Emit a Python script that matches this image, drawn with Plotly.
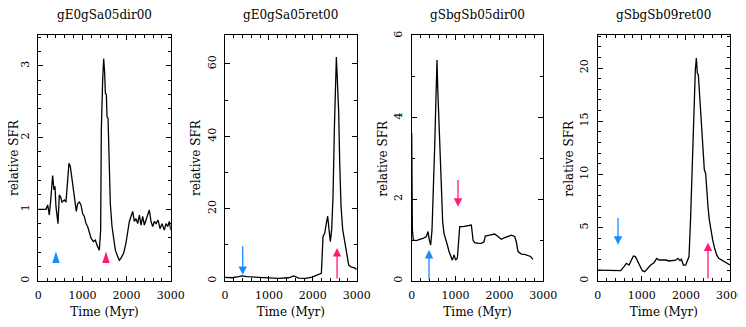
import plotly.graph_objects as go
from plotly.subplots import make_subplots

# --- data ---
titles = ['gE0gSa05dir00', 'gE0gSa05ret00', 'gSbgSb05dir00', 'gSbgSb09ret00']

t1 = [0, 174, 212, 250, 287, 325, 355, 378, 400, 423, 446, 476, 506, 537, 590, 627, 665, 695,
      725, 756, 793, 839, 861, 892, 930, 967, 1005, 1043, 1081, 1118, 1156, 1194, 1247, 1292,
      1330, 1383, 1413, 1428, 1458, 1481, 1504, 1519, 1542, 1557, 1580, 1602, 1632, 1670, 1708,
      1746, 1799, 1836, 1874, 1935, 1987, 2033, 2063, 2101, 2138, 2176, 2214, 2252, 2290, 2327,
      2365, 2403, 2440, 2478, 2516, 2554, 2592, 2629, 2667, 2713, 2758, 2803, 2856, 2894, 2932,
      2970, 3000]
s1 = [1.0, 1.0, 1.06, 0.92, 1.17, 1.47, 1.27, 1.32, 1.04, 0.9, 0.8, 1.2, 1.17, 1.1, 1.13, 1.1,
      1.5, 1.64, 1.6, 1.46, 1.27, 1.08, 0.97, 1.08, 1.1, 1.06, 0.94, 0.9, 0.8, 0.76, 0.67, 0.6,
      0.55, 0.57, 0.5, 0.43, 0.71, 2.1, 2.8, 3.1, 2.9, 2.62, 2.6, 2.29, 2.27, 1.64, 1.08, 0.76,
      0.62, 0.43, 0.34, 0.29, 0.32, 0.39, 0.53, 0.71, 0.83, 0.9, 0.97, 0.83, 0.87, 0.8, 0.92,
      0.78, 0.9, 0.78, 0.85, 0.9, 0.99, 0.83, 0.76, 0.83, 0.8, 0.85, 0.73, 0.8, 0.71, 0.8, 0.76,
      0.83, 0.71]

t2 = [0, 160, 311, 387, 501, 691, 843, 995, 1223, 1451, 1565, 1678, 1830, 1982, 2134, 2195,
      2233, 2271, 2309, 2339, 2370, 2400, 2430, 2461, 2491, 2514, 2537, 2552, 2567, 2590, 2613,
      2643, 2681, 2727, 2772, 2818, 2878, 2939, 3000]
s2 = [1.0, 0.9, 1.2, 1.4, 1.2, 1.1, 1.0, 0.9, 0.7, 0.9, 1.4, 0.8, 0.7, 1.1, 1.85, 2.1, 12.3,
      13.2, 16.0, 17.9, 14.2, 10.9, 14.2, 23.5, 41.9, 55.8, 61.9, 57.7, 53.5, 46.6, 32.7, 20.6,
      14.2, 10.5, 6.8, 4.4, 3.8, 3.7, 3.2]

t3 = [0, 15, 38, 106, 182, 258, 334, 372, 403, 433, 463, 494, 524, 554, 577, 592, 608, 630,
      653, 684, 706, 737, 775, 813, 851, 889, 927, 965, 1003, 1041, 1063, 1094, 1170, 1246,
      1322, 1360, 1398, 1435, 1511, 1587, 1648, 1678, 1777, 1891, 1967, 2043, 2119, 2195,
      2271, 2347, 2385, 2423, 2499, 2575, 2651, 2711, 2765]
s3 = [3.62, 1.25, 1.0, 0.99, 1.02, 1.04, 1.09, 1.21, 1.0, 0.88, 1.25, 2.07, 3.29, 4.51, 5.41,
      4.76, 4.27, 3.7, 2.72, 1.9, 1.45, 1.16, 1.04, 0.88, 0.72, 0.6, 0.51, 0.64, 0.51, 0.56,
      0.92, 1.33, 1.33, 1.35, 1.37, 1.37, 1.0, 0.94, 0.92, 0.92, 0.96, 1.1, 1.12, 1.15, 1.09,
      1.02, 1.06, 1.09, 1.12, 1.09, 0.96, 0.72, 0.66, 0.65, 0.63, 0.6, 0.53]

t4 = [0, 219, 370, 521, 597, 650, 710, 763, 809, 854, 899, 952, 1013, 1066, 1126, 1202, 1277,
      1338, 1390, 1466, 1542, 1617, 1693, 1768, 1821, 1866, 1897, 1942, 1995, 2033, 2071, 2108,
      2146, 2184, 2214, 2237, 2259, 2282, 2312, 2343, 2380, 2418, 2448, 2471, 2501, 2531, 2561,
      2607, 2652, 2697, 2743, 2803, 2864, 2924, 3000]
s4 = [1.03, 1.03, 1.03, 0.97, 1.35, 1.66, 1.5, 1.97, 2.35, 2.29, 1.91, 1.35, 0.97, 0.88, 1.16,
      1.5, 1.72, 2.13, 1.97, 1.97, 1.97, 1.88, 1.91, 1.97, 2.13, 1.91, 2.04, 1.5, 1.5, 1.82,
      2.29, 6.05, 11.07, 16.7, 19.84, 20.94, 19.53, 19.37, 17.34, 15.14, 12.95, 10.44, 10.1,
      8.56, 7.0, 5.74, 4.8, 3.86, 3.07, 2.45, 2.13, 1.97, 1.82, 1.66, 1.5]

times = [t1, t2, t3, t4]
sfrs = [s1, s2, s3, s4]
y_max = [3.43, 68, 6.02, 23.1]
y_major = [1, 20, 2, 5]
y_minor = [0.2, 10, 1, 1]

# arrow marks: (time, tip, tail) -- tip == tail means a bare arrowhead
blue_marks = [(400, 0.41, 0.41), (403, 1.7, 10), (395, 0.76, 0.0), (461, 3.4, 6.05)]
pink_marks = [(1534, 0.41, 0.41), (2552, 9.1, 0.3), (1056, 1.82, 2.51), (2501, 3.6, 0.1)]
blue = '#1a8cff'
pink = '#ff1a7a'

# the page body has an 8px margin, so the figure is laid out 8px smaller
OFF = 8
W, H = 746 - OFF, 327 - OFF
x_dom = [(38.3, 170.7), (225, 356.7), (411.7, 543.3), (597.7, 730)]
y_dom = (35, 281)
fnt = 'DejaVu Serif'

fig = make_subplots(rows=1, cols=4)

for i in range(4):
    fig.add_trace(go.Scatter(x=times[i], y=sfrs[i], mode='lines',
                             line=dict(color='black', width=1.3)), row=1, col=i + 1)
    for mark, col in [(blue_marks[i], blue), (pink_marks[i], pink)]:
        xm, tip, tail = mark
        if tip == tail:
            fig.add_trace(go.Scatter(x=[xm], y=[tip], mode='markers',
                                     marker=dict(symbol='arrow', size=12, color=col)),
                          row=1, col=i + 1)
        else:
            fig.add_annotation(x=xm, y=tip, ax=xm, ay=tail, xref='x%d' % (i + 1), yref='y%d' % (i + 1),
                               axref='x%d' % (i + 1), ayref='y%d' % (i + 1), text='',
                               showarrow=True, arrowhead=2, arrowsize=1.3, arrowwidth=1.3,
                               arrowcolor=col)
    x0, x1 = (x_dom[i][0] - OFF) / W, (x_dom[i][1] - OFF) / W
    y0, y1 = (H + OFF - y_dom[1]) / H, (H + OFF - y_dom[0]) / H
    fig.add_annotation(x=(x0 + x1) / 2, y=1, xref='paper', yref='paper', xanchor='center',
                       yanchor='top', yshift=2, text=titles[i], showarrow=False,
                       font=dict(family=fnt, size=12, color='black'))
    # y title: left edge of its box, in page pixels (first panel pinned to the page edge)
    yt_left = max(x_dom[i][0] - 37 - OFF, 0)
    fig.add_annotation(x=yt_left / W, y=(y0 + y1) / 2, xref='paper', yref='paper', xanchor='left',
                       yanchor='middle', textangle=-90, text='relative SFR', showarrow=False,
                       borderpad=0, xshift=-2 if i == 0 else 0,
                       font=dict(family=fnt, size=12, color='black'))

    ax_common = dict(showline=True, linecolor='black', linewidth=1, mirror='allticks',
                     ticks='inside', ticklen=5, tickcolor='black', showgrid=False, zeroline=False,
                     automargin=False, tickfont=dict(family=fnt, size=11, color='black'))
    fig.update_xaxes(range=[0, 3000], dtick=1000, domain=[x0, x1],
                     minor=dict(dtick=200, ticks='inside', ticklen=3, tickcolor='black'),
                     ticklabelstandoff=4,
                     title=dict(text='Time (Myr)', font=dict(family=fnt, size=12, color='black'),
                                standoff=6),
                     **ax_common, row=1, col=i + 1)
    fig.update_yaxes(range=[0, y_max[i]], dtick=y_major[i], domain=[y0, y1],
                     tickangle=-90, ticklabelstandoff=4,
                     minor=dict(dtick=y_minor[i], ticks='inside', ticklen=3, tickcolor='black'),
                     **ax_common, row=1, col=i + 1)

fig.update_layout(width=W, height=H, margin=dict(l=0, r=0, t=0, b=0, autoexpand=False),
                  showlegend=False, plot_bgcolor='white', paper_bgcolor='white')
fig.write_html('out.html')
